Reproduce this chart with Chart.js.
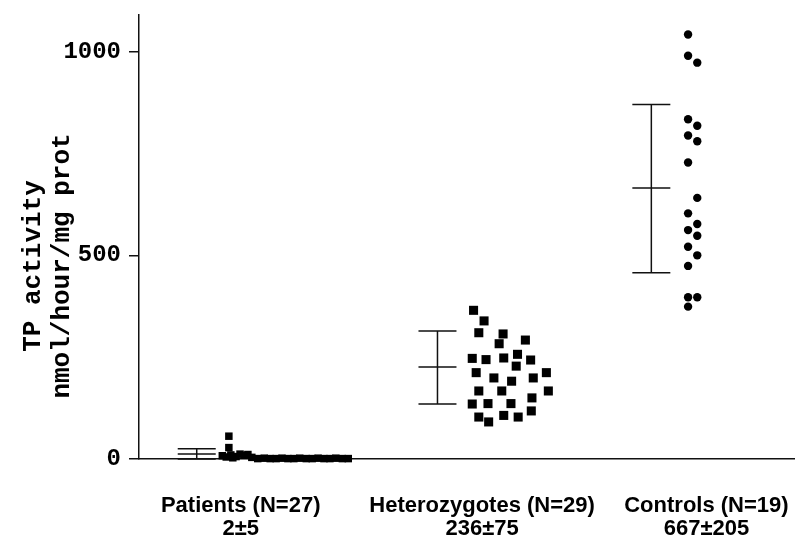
<!DOCTYPE html>
<html>
<head>
<meta charset="utf-8">
<script src="https://cdn.jsdelivr.net/npm/chart.js@4.4.1/dist/chart.umd.min.js"></script>
<style>
  html, body { margin: 0; padding: 0; background: #ffffff; }
  #wrap { width: 795px; height: 544px; }
</style>
</head>
<body>
<div id="wrap"><canvas id="c" width="795" height="544"></canvas></div>
<script>
// ---- data ----
const categories = ['Patients (N=27)', 'Heterozygotes (N=29)', 'Controls (N=19)'];
const summaries = ['2±5', '236±75', '667±205'];
const categoryPos = [1.55, 5.23, 8.65];
const yTickValues = [0, 500, 1000];
const yAxisTitle = ['TP activity', 'nmol/hour/mg prot'];

// individual points (x = jittered horizontal position in axis units, y = activity)
const patientsX = [1.27, 1.33, 1.37, 1.37, 1.40, 1.43, 1.48, 1.54, 1.60, 1.66, 1.72,
                   1.81, 1.91, 2.00, 2.09, 2.18, 2.27, 2.36, 2.45, 2.55, 2.64, 2.73, 2.82, 2.91, 3.00, 3.10, 3.19];
const patientsY = [8, 5, 56, 28, 10, 3, 6, 12, 9, 11, 4,
                   1, 2, 1, 1, 2, 1, 1, 2, 1, 1, 2, 1, 1, 2, 1, 1];

const heteroX = [5.10, 5.26, 5.18, 5.55, 5.89, 5.49, 5.08, 5.29, 5.56, 5.77, 5.97, 5.75, 5.14, 5.41, 5.68,
                 6.01, 6.21, 5.18, 5.53, 6.24, 5.99, 5.08, 5.32, 5.67, 5.98, 5.18, 5.33, 5.56, 5.78];
const heteroY = [365, 339, 310, 307, 292, 283, 247, 244, 248, 257, 243, 228, 212, 199, 191,
                 199, 212, 167, 167, 167, 150, 135, 136, 136, 118, 103, 91, 107, 103];

const controlsX = [8.37, 8.37, 8.51, 8.37, 8.51, 8.37, 8.51, 8.37, 8.51, 8.37, 8.51, 8.37, 8.51, 8.37, 8.51, 8.37, 8.37, 8.51, 8.37];
const controlsY = [1042, 990, 973, 834, 818, 794, 780, 728, 641, 603, 577, 562, 548, 521, 500, 474, 397, 397, 374];

// mean / SD bars
const barPos  = [0.88, 4.55, 7.81];
const barMean = [12, 226, 665];
const barLow  = [0, 135, 457];
const barHigh = [25, 314, 870];

// ---- build ----
const toPts = (xs, ys) => xs.map((x, i) => ({ x: x, y: ys[i] }));
const monoFont = "'Liberation Mono', 'Courier New', monospace";

const errorBarPlugin = {
  id: 'errorBars',
  afterDatasetsDraw(chart) {
    const ctx = chart.ctx;
    const xs = chart.scales.x, ys = chart.scales.y;
    ctx.save();
    ctx.strokeStyle = '#111';
    ctx.lineWidth = 1.5;
    const half = 19;
    barPos.forEach((p, i) => {
      const px = xs.getPixelForValue(p);
      const yh = ys.getPixelForValue(barHigh[i]);
      const ym = ys.getPixelForValue(barMean[i]);
      const yl = ys.getPixelForValue(barLow[i]);
      ctx.beginPath();
      ctx.moveTo(px, yh); ctx.lineTo(px, yl);
      [yh, ym, yl].forEach(y => { ctx.moveTo(px - half, y); ctx.lineTo(px + half, y); });
      ctx.stroke();
    });
    ctx.restore();
  }
};

// rotated two-line y-axis title, centred a little below the axis middle as in the original
const yTitlePlugin = {
  id: 'yTitle',
  afterDraw(chart) {
    const ctx = chart.ctx;
    const ys = chart.scales.y;
    const cy = (ys.top + ys.bottom) / 2 + 29;
    ctx.save();
    ctx.fillStyle = '#000';
    ctx.font = 'bold 26px ' + monoFont;
    ctx.textAlign = 'center';
    ctx.textBaseline = 'middle';
    yAxisTitle.forEach((t, i) => {
      ctx.save();
      ctx.translate(33 + i * 29, cy);
      ctx.rotate(-Math.PI / 2);
      ctx.fillText(t, 0, 0);
      ctx.restore();
    });
    ctx.restore();
  }
};

new Chart(document.getElementById('c'), {
  type: 'scatter',
  data: {
    datasets: [
      { label: 'Patients', data: toPts(patientsX, patientsY), pointStyle: 'rect', pointRadius: 5.3,
        backgroundColor: '#000', borderColor: '#000', borderWidth: 0 },
      { label: 'Heterozygotes', data: toPts(heteroX, heteroY), pointStyle: 'rect', pointRadius: 6.4,
        backgroundColor: '#000', borderColor: '#000', borderWidth: 0 },
      { label: 'Controls', data: toPts(controlsX, controlsY), pointStyle: 'circle', pointRadius: 4.2,
        backgroundColor: '#000', borderColor: '#000', borderWidth: 0 }
    ]
  },
  options: {
    responsive: false,
    animation: false,
    clip: false,
    layout: { autoPadding: false, padding: { top: 15, left: 0, right: 0, bottom: 0 } },
    plugins: { legend: { display: false }, tooltip: { enabled: false } },
    scales: {
      x: {
        type: 'linear', min: 0, max: 10,
        afterBuildTicks: s => { s.ticks = categoryPos.map(v => ({ value: v })); },
        afterFit: s => { s.height = 85; s.paddingLeft = 0; s.paddingRight = 0; },
        grid: { display: false },
        border: { display: true, color: '#111', width: 1.5 },
        ticks: {
          autoSkip: false, maxRotation: 0, padding: 28, color: '#000',
          font: { family: "'Liberation Sans', Arial, sans-serif", size: 22, weight: 'bold', lineHeight: 1.03 },
          callback: (v, i) => [categories[i], summaries[i]]
        }
      },
      y: {
        type: 'linear', min: 0, max: 1090,
        afterBuildTicks: s => { s.ticks = yTickValues.map(v => ({ value: v })); },
        afterFit: s => { s.width = 139; s.paddingTop = 0; s.paddingBottom = 0; },
        grid: { drawOnChartArea: false, drawTicks: true, tickLength: 10, color: '#111', lineWidth: 1.5 },
        border: { display: true, color: '#111', width: 1.5 },
        ticks: {
          padding: 8, color: '#000',
          font: { family: monoFont, size: 24, weight: 'bold' },
          callback: v => String(v)
        },
        title: { display: false }
      }
    }
  },
  plugins: [errorBarPlugin, yTitlePlugin]
});
</script>
</body>
</html>
